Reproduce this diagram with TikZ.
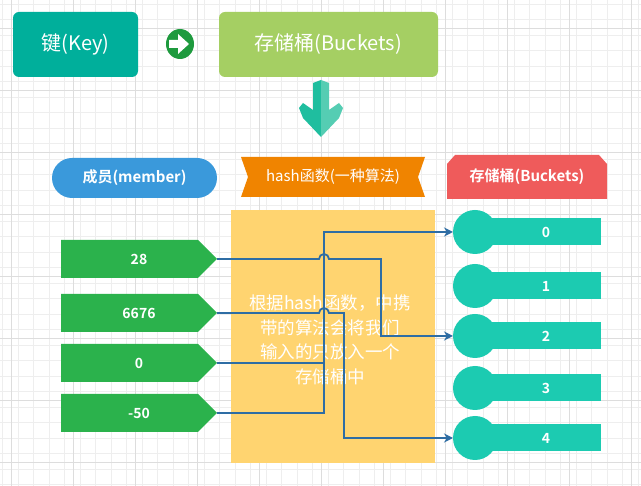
\documentclass[tikz,border=0pt]{standalone}
\usepackage{fontspec}
\setmainfont{Noto Sans CJK SC}
\newfontfamily\cjkb{Noto Sans CJK SC Bold}
\usetikzlibrary{arrows.meta,shapes.geometric}
\definecolor{keyc}{HTML}{00AF9B}
\definecolor{bkc}{HTML}{A5CF63}
\definecolor{memc}{HTML}{3A99DB}
\definecolor{hashc}{HTML}{F08400}
\definecolor{redc}{HTML}{EF5B5B}
\definecolor{yelc}{HTML}{FFD470}
\definecolor{grnc}{HTML}{2BB24C}
\definecolor{tealc}{HTML}{1CCBB1}
\definecolor{linec}{HTML}{2E6DA4}
\definecolor{gridm}{HTML}{EEEEEE}
\definecolor{gridM}{HTML}{DDDDDD}
\definecolor{circc}{HTML}{1E9A3E}
\definecolor{arl}{HTML}{1FBE9F}
\definecolor{arr}{HTML}{55CDB3}
\tikzset{
 wt/.style={text=white},
 mem/.style={fill=grnc,draw=none},
 bucket/.style={fill=tealc,draw=none},
 conn/.style={draw=linec,line width=1.8pt,-{Stealth[length=9pt,width=9pt]}},
}
\begin{document}
\begin{tikzpicture}[x=1pt,y=-1pt]
\useasboundingbox (0,0) rectangle (641,486);
\fill[white] (0,0) rectangle (641,486);
% grid
\foreach \x in {2.5,18,...,641} \draw[gridm,line width=0.6pt] (\x,0) -- (\x,486);
\foreach \y in {4,19.5,...,486} \draw[gridm,line width=0.6pt] (0,\y) -- (641,\y);
\foreach \x in {11,73,...,641} \draw[gridM,line width=0.8pt] (\x,0) -- (\x,486);
\foreach \y in {28,90,...,486} \draw[gridM,line width=0.8pt] (0,\y) -- (641,\y);
% top row
\node[fill=keyc,rounded corners=6pt,minimum width=125pt,minimum height=65pt,wt,font=\fontsize{20}{20}\selectfont] (key) at (75.5,44.5) {键(Key)};
\node[fill=bkc,rounded corners=6pt,minimum width=219pt,minimum height=65pt,wt,font=\fontsize{20}{20}\selectfont] (bk) at (328.5,44.5) {存储桶(Buckets)};
\fill[circc] (180,44) ellipse (14pt and 15pt);
\fill[white] (169,40) -- (178,40) -- (178,34) -- (189,44) -- (178,54) -- (178,48) -- (169,48) -- cycle;
% down arrow
\fill[arl] (313,83) -- (321,80) -- (321,137) -- (303,118) -- (299,108) -- (303,103) -- (313,110) -- cycle;
\fill[arr] (329,83) -- (321,80) -- (321,137) -- (339,118) -- (343,108) -- (339,103) -- (329,110) -- cycle;
% headers
\node[fill=memc,rounded corners=20pt,minimum width=165pt,minimum height=40pt,wt,font=\cjkb\fontsize{15}{15}\selectfont] (memh) at (134.5,178) {成员(member)};
\fill[hashc] (241,157) -- (425,157) -- (418,177) -- (425,197) -- (241,197) -- (248,177) -- cycle;
\node[wt,font=\fontsize{15}{15}\selectfont] (hashh) at (333,177) {hash函数(一种算法)};
\fill[redc] (455,155) -- (599,155) -- (607,164) -- (607,199) -- (447,199) -- (447,164) -- cycle;
\node[wt,font=\cjkb\fontsize{15}{15}\selectfont] (bkh) at (527,177) {存储桶(Buckets)};
% yellow box
\node[fill=yelc,minimum width=204pt,minimum height=253pt,inner sep=0pt] (yel) at (333,336.5) {};
\node[wt,align=center,font=\fontsize{17.5}{24.5}\selectfont] (txt) at (330,340) {根据hash函数，中携\\带的算法会将我们\\输入的只放入一个\\存储桶中};
% members
\foreach \n/\y/\t in {m0/259/28,m1/313/6676,m2/363/0,m3/413/-50}{
 \fill[mem] (61,\y-19) -- (198,\y-19) -- (217,\y) -- (198,\y+19) -- (61,\y+19) -- cycle;
 \node[wt,font=\cjkb\fontsize{14}{14}\selectfont] at (139,\y) {\t};
 \coordinate (\n) at (217,\y);
}
% buckets
\foreach \n/\y/\t in {b0/232/0,b1/286/1,b2/336/2,b3/388/3,b4/438/4}{
 \fill[bucket] (490,\y-13.5) rectangle (601,\y+13.5);
 \fill[bucket] (475,\y) circle (22pt);
 \node[wt,font=\cjkb\fontsize{14}{14}\selectfont] at (546,\y) {\t};
 \coordinate (\n) at (453,\y);
}
% connectors
\draw[conn] (m3) -- (324,413) -- (324,232) -- (b0);
\draw[draw=linec,line width=1.8pt] (m2) -- (324,363);
\draw[conn] (m0) -- (319,259) arc[start angle=180,end angle=0,radius=5pt] -- (381,259) -- (381,336) -- (b2);
\draw[conn] (m1) -- (319,313) arc[start angle=180,end angle=0,radius=5pt] -- (344,313) -- (344,438) -- (b4);
\end{tikzpicture}
\end{document}
